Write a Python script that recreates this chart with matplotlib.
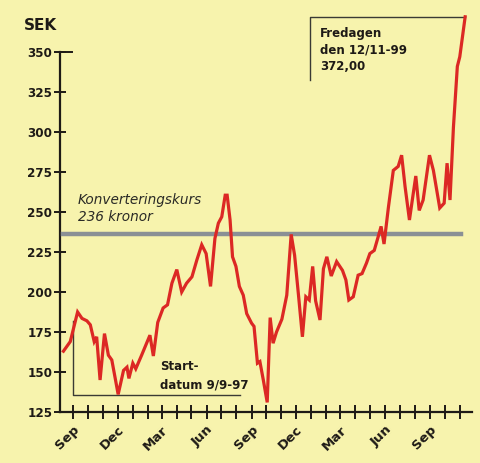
import matplotlib
matplotlib.use('Agg')
import matplotlib.pyplot as plt
import matplotlib.dates as mdates
import matplotlib.transforms as mtransforms
from datetime import date

# weekly-ish closes (SEK)
dates = [
    "1997-08-12", "1997-08-26", "1997-09-10", "1997-09-19", "1997-09-29", "1997-10-06",
    "1997-10-14", "1997-10-19", "1997-10-26", "1997-11-04", "1997-11-12", "1997-11-19",
    "1997-11-26", "1997-12-02", "1997-12-13", "1997-12-20", "1997-12-24", "1998-01-01",
    "1998-01-07", "1998-01-19", "1998-02-05", "1998-02-12", "1998-02-21", "1998-03-04",
    "1998-03-13", "1998-03-22", "1998-04-01", "1998-04-11", "1998-04-21", "1998-05-02",
    "1998-05-12", "1998-05-22", "1998-05-31", "1998-06-09", "1998-06-18", "1998-06-25",
    "1998-07-02", "1998-07-09", "1998-07-13", "1998-07-19", "1998-07-24", "1998-07-31",
    "1998-08-07", "1998-08-15", "1998-08-22", "1998-09-01", "1998-09-06", "1998-09-13",
    "1998-09-18", "1998-09-25", "1998-10-03", "1998-10-09", "1998-10-15", "1998-10-22",
    "1998-11-02", "1998-11-12", "1998-11-21", "1998-11-28", "1998-12-06", "1998-12-14",
    "1998-12-21", "1998-12-28", "1999-01-04", "1999-01-10", "1999-01-19", "1999-01-26",
    "1999-02-02", "1999-02-11", "1999-02-22", "1999-03-06", "1999-03-13", "1999-03-19",
    "1999-03-28", "1999-04-07", "1999-04-15", "1999-04-24", "1999-05-01", "1999-05-10",
    "1999-05-18", "1999-05-24", "1999-05-30", "1999-06-08", "1999-06-18", "1999-06-28",
    "1999-07-05", "1999-07-12", "1999-07-21", "1999-07-29", "1999-08-03", "1999-08-10",
    "1999-08-18", "1999-08-31", "1999-09-08", "1999-09-21", "1999-09-30", "1999-10-06",
    "1999-10-12", "1999-10-19", "1999-10-27", "1999-11-01", "1999-11-12",
]
values = [
    163, 169, 187.5, 183.5, 182, 179.5,
    169, 172, 145, 174, 160.5, 157.5,
    146, 136, 151, 153, 146, 155.5,
    152, 160.5, 173, 160, 181, 190,
    192, 205.5, 214, 200, 205.5, 209.5,
    220, 229.5, 224, 203.5, 233.5, 243,
    247, 260.5, 260.5, 245, 222, 216,
    203.5, 198, 186.5, 180.5, 178.5, 155.5,
    156.5, 145, 131, 184, 168, 175,
    183, 198, 236, 223, 198, 172,
    197, 195, 216, 194.5, 182.5, 214.5,
    222, 210, 219, 213.5, 207.5, 195,
    197, 210.5, 211.5, 218, 224, 226,
    234.5, 241, 230, 253, 276, 278.5,
    285.5, 266, 245, 262, 272.5, 251,
    257.5, 285.5, 276, 252.5, 255.5, 280.5,
    257.5, 303, 341, 347, 372,
]

conv_rate = 236
end_date = "1999-11-12"
month_names = {9: "Sep", 12: "Dec", 3: "Mar", 6: "Jun"}

bg = "#f7f3ad"
red = "#dc2824"
grey = "#8a9095"
ink = "#1e1a16"

W, H = 480, 463
fig = plt.figure(figsize=(W / 100, H / 100), dpi=100)
fig.patch.set_facecolor(bg)
ax = fig.add_axes([60 / W, 1 - 412 / H, 412 / W, 402 / H])
ax.set_facecolor(bg)

x = mdates.datestr2num(dates)
ax.plot(x, values, color=red, lw=2.3, solid_joinstyle="miter", clip_on=False, zorder=4)

x0 = mdates.date2num(date(1997, 8, 5))
x1 = mdates.date2num(date(1999, 11, 26))
ax.set_xlim(x0, x1)
ax.set_ylim(125, 376.25)

# conversion rate band
ax.axhline(conv_rate, xmin=0.007, xmax=0.974, color=grey, lw=3.2, zorder=3)

# brackets for the two notes
sd = mdates.date2num(date(1997, 9, 1))
ax.plot([sd, sd, mdates.date2num(date(1998, 8, 8))], [182, 135.6, 135.6],
        color="#3a3a34", lw=1.0, zorder=2)
ed = mdates.datestr2num(end_date)
fd = mdates.date2num(date(1998, 12, 29))
ax.plot([fd, fd, ed], [332.5, 371.9, 371.9], color="#3a3a34", lw=1.0,
        clip_on=False, zorder=2)

# spines
for s in ("top", "right"):
    ax.spines[s].set_visible(False)
ax.spines["left"].set_bounds(125, 350)
for s in ("left", "bottom"):
    ax.spines[s].set_linewidth(1.6)
    ax.spines[s].set_color(ink)

ax.set_yticks(range(125, 351, 25))
ax.tick_params(axis="y", direction="inout", length=8, width=1.4, colors=ink,
               labelsize=9.5, pad=1.5)
# longer cap on top tick
cap = mtransforms.blended_transform_factory(ax.transAxes, ax.transData)
ax.plot([0, 12 / 412], [350, 350], color=ink, lw=1.4, transform=cap, clip_on=False)

months = []
y, m = 1997, 9
while (y, m) <= (1999, 11):
    months.append(date(y, m, 1))
    m += 1
    if m > 12:
        m, y = 1, y + 1
ax.set_xticks(mdates.date2num(months))
ax.set_xticklabels([month_names.get(d.month, "") for d in months])
ax.tick_params(axis="x", direction="inout", length=10, width=1.4, colors=ink,
               labelsize=9.5, pad=3)

for lab in ax.get_yticklabels():
    lab.set_fontweight("bold")
    lab.set_fontstretch("condensed")
off = mtransforms.ScaledTranslation(9 / 100, 0, fig.dpi_scale_trans)
for lab in ax.get_xticklabels():
    lab.set_fontweight("bold")
    lab.set_rotation(45)
    lab.set_ha("right")
    lab.set_transform(lab.get_transform() + off)

# texts placed in pixel positions
def px(xp, yp):
    return xp / W, 1 - yp / H

fig.text(*px(24, 25), "SEK", fontsize=11, fontweight="bold", color=ink, va="center")
fig.text(*px(78, 200), "Konverteringskurs", fontsize=9.8, style="italic",
         color="#2a2a26", va="center")
fig.text(*px(78, 217), "236 kronor", fontsize=9.8, style="italic",
         color="#2a2a26", va="center")
fig.text(*px(320, 33), "Fredagen", fontsize=8.5, fontweight="bold", color=ink, va="center")
fig.text(*px(320, 50), "den 12/11-99", fontsize=8.5, fontweight="bold", color=ink, va="center")
fig.text(*px(320, 67), "372,00", fontsize=8.5, fontweight="bold", color=ink, va="center")
fig.text(*px(160, 367), "Start-", fontsize=8.5, fontweight="bold", color=ink, va="center")
fig.text(*px(160, 385), "datum 9/9-97", fontsize=8.5, fontweight="bold", color=ink, va="center")

fig.savefig("out.png", dpi=100, facecolor=bg)
